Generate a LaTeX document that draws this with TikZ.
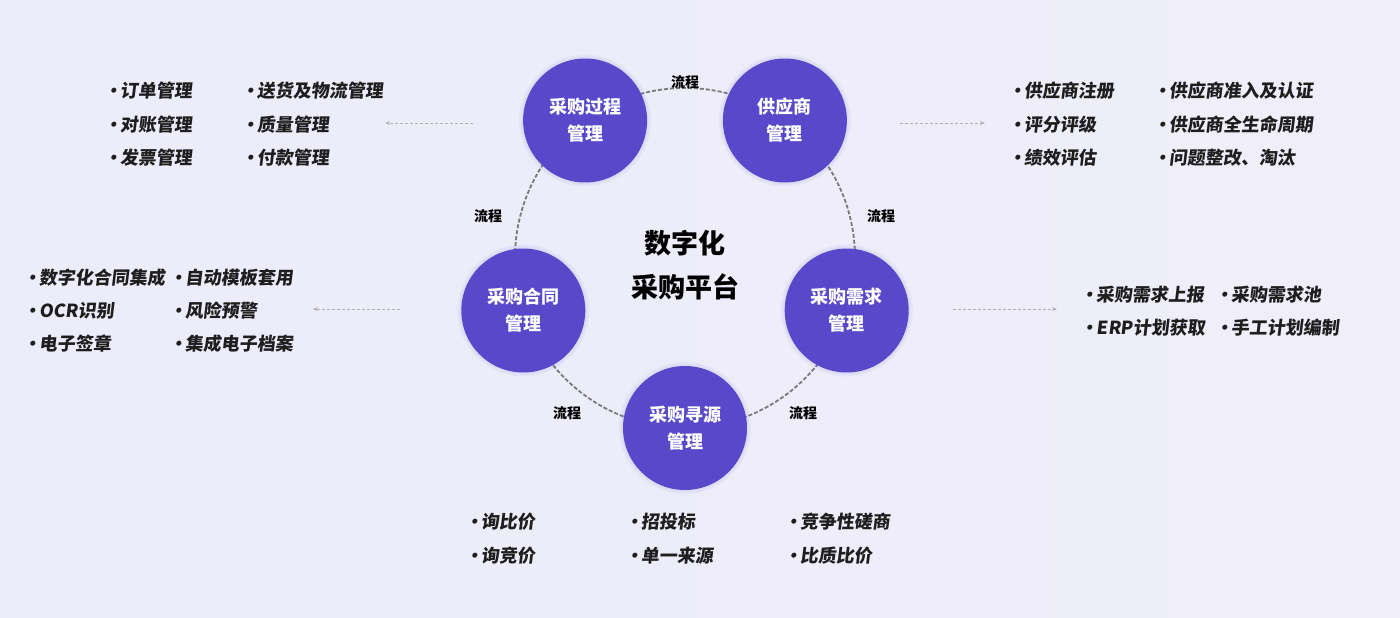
\documentclass[tikz,border=0pt]{standalone}
\usepackage{fontspec}
\setmainfont{Noto Sans CJK SC}
\newfontfamily\cjk{Noto Sans CJK SC}
\newfontfamily\cjksl{Noto Sans CJK SC}[FakeSlant=0.12]
\usetikzlibrary{arrows.meta}
\definecolor{circ}{HTML}{5A48CA}
\definecolor{ringc}{HTML}{7A7A7A}
\definecolor{txt}{HTML}{1E1E1E}
\definecolor{bgl}{HTML}{ECECFA}
\definecolor{bgm}{HTML}{FBF8F8}
\definecolor{bgr}{HTML}{EFEEF9}
\tikzset{
  modcirc/.style={circle, fill=circ, minimum size=124pt, inner sep=0pt, text=white,
    font=\cjk\bfseries\fontsize{18pt}{27pt}\selectfont, align=center},
  halo/.style={circle, fill=circ, opacity=0.05, minimum size=#1, inner sep=0pt},
  flowlbl/.style={font=\cjk\bfseries\fontsize{14pt}{16pt}\selectfont, text=black},
  item/.style={anchor=west, inner sep=0pt, text=txt, font=\cjksl\bfseries\fontsize{18pt}{20pt}\selectfont},
  hint/.style={draw=black!30, dash pattern=on 3pt off 2pt, line width=0.8pt, -{Stealth[length=5pt,width=4pt]}},
  ring/.style={draw=ringc, dash pattern=on 4pt off 2pt, line width=1.8pt}
}
\newcommand{\bl}{•\kern-1.5pt}
\begin{document}
\begin{tikzpicture}[x=1pt,y=-1pt]
\useasboundingbox (0,0) rectangle (1400,618);
\shade[left color=bgl, middle color=bgm, right color=bgr] (0,0) rectangle (1400,618);

% ring
\coordinate (ctr) at (685,258);
\draw[ring] (ctr) circle (170);

% halos
\foreach \p in {(685,428),(846.7,310.5),(784.9,120.5),(585.1,120.5),(523.3,310.5)}{
  \node[halo=132pt] at \p {};
  \node[halo=128pt] at \p {};
}

% circles
\node[modcirc] (xy) at (685,428) {采购寻源\\管理};
\node[modcirc] (xq) at (846.7,310.5) {采购需求\\管理};
\node[modcirc] (gys) at (784.9,120.5) {供应商\\管理};
\node[modcirc] (gc) at (585.1,120.5) {采购过程\\管理};
\node[modcirc] (ht) at (523.3,310.5) {采购合同\\管理};

% title
\node[font=\cjk\bfseries\fontsize{27pt}{44pt}\selectfont, align=center, text=black] (title) at (685,265) {数字化\\采购平台};

% flow labels
\node[flowlbl] (f1) at (685,82) {流程};
\node[flowlbl] (f2) at (488,216) {流程};
\node[flowlbl] (f3) at (881,216) {流程};
\node[flowlbl] (f4) at (567,413) {流程};
\node[flowlbl] (f5) at (803,413) {流程};

% hint arrows
\coordinate (a1s) at (473,123); \coordinate (a1e) at (385,123);
\coordinate (a2s) at (900,123); \coordinate (a2e) at (985,123);
\coordinate (a3s) at (400,309); \coordinate (a3e) at (313,309);
\coordinate (a4s) at (953,309); \coordinate (a4e) at (1057,309);
\draw[hint] (a1s) -- (a1e);
\draw[hint] (a2s) -- (a2e);
\draw[hint] (a3s) -- (a3e);
\draw[hint] (a4s) -- (a4e);

% top-left list
\node[item] (l1) at (104,91) {\bl 订单管理};
\node[item] (l2) at (104,125) {\bl 对账管理};
\node[item] (l3) at (104,158) {\bl 发票管理};
\node[item] (l4) at (241,91) {\bl 送货及物流管理};
\node[item] (l5) at (241,125) {\bl 质量管理};
\node[item] (l6) at (241,158) {\bl 付款管理};

% left-middle list
\node[item] (m1) at (23,278) {\bl 数字化合同集成};
\node[item] (m2) at (23,311) {\bl OCR识别};
\node[item] (m3) at (23,344) {\bl 电子签章};
\node[item] (m4) at (169,278) {\bl 自动模板套用};
\node[item] (m5) at (169,311) {\bl 风险预警};
\node[item] (m6) at (169,344) {\bl 集成电子档案};

% top-right list
\node[item] (r1) at (1008,91) {\bl 供应商注册};
\node[item] (r2) at (1008,125) {\bl 评分评级};
\node[item] (r3) at (1008,158) {\bl 绩效评估};
\node[item] (r4) at (1153,91) {\bl 供应商准入及认证};
\node[item] (r5) at (1153,125) {\bl 供应商全生命周期};
\node[item] (r6) at (1153,158) {\bl 问题整改、淘汰};

% right-middle list
\node[item] (n1) at (1080,295) {\bl 采购需求上报};
\node[item] (n2) at (1080,328) {\bl ERP计划获取};
\node[item] (n3) at (1215,295) {\bl 采购需求池};
\node[item] (n4) at (1215,328) {\bl 手工计划编制};

% bottom list
\node[item] (b1) at (465,522) {\bl 询比价};
\node[item] (b2) at (465,556) {\bl 询竞价};
\node[item] (b3) at (625,522) {\bl 招投标};
\node[item] (b4) at (625,556) {\bl 单一来源};
\node[item] (b5) at (784,522) {\bl 竞争性磋商};
\node[item] (b6) at (784,556) {\bl 比质比价};
\end{tikzpicture}
\end{document}
